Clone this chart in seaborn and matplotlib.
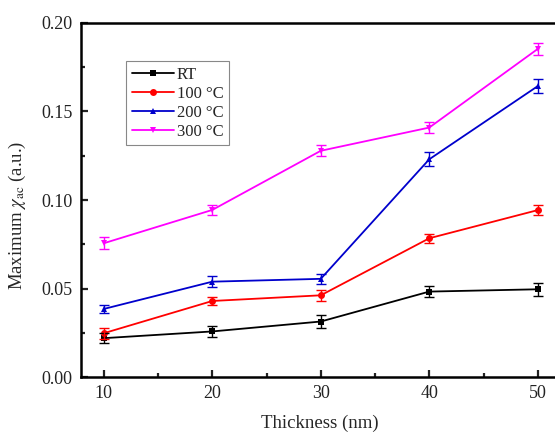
import matplotlib
matplotlib.use("Agg")
import matplotlib.pyplot as plt
import seaborn as sns
import pandas as pd
from matplotlib.ticker import MultipleLocator

# Film thickness (nm)
thickness = [10, 20, 30, 40, 50]

# Maximum ac susceptibility for each annealing condition
chi_rt = [0.0220, 0.0258, 0.0314, 0.0483, 0.0496]
chi_100 = [0.0248, 0.0430, 0.0462, 0.0784, 0.0943]
chi_200 = [0.0385, 0.0539, 0.0555, 0.1230, 0.1643]
chi_300 = [0.0756, 0.0944, 0.1278, 0.1409, 0.1853]

# Measurement uncertainty
err_rt = [0.0030, 0.0030, 0.0035, 0.0030, 0.0036]
err_100 = [0.0030, 0.0025, 0.0030, 0.0025, 0.0030]
err_200 = [0.0025, 0.0030, 0.0030, 0.0040, 0.0040]
err_300 = [0.0035, 0.0030, 0.0030, 0.0030, 0.0035]

labels = ["RT", "100 \u00b0C", "200 \u00b0C", "300 \u00b0C"]
colors = ["#000000", "#ff0000", "#0000cc", "#ff00ff"]
markers = ["s", "o", "^", "v"]

values = [chi_rt, chi_100, chi_200, chi_300]
errors = [err_rt, err_100, err_200, err_300]

df = pd.DataFrame({
    "thickness": thickness * 4,
    "chi": sum(values, []),
    "err": sum(errors, []),
    "series": [lab for lab in labels for _ in thickness],
})

sns.set_theme(style="ticks")
plt.rcParams["font.family"] = ["Liberation Serif", "DejaVu Serif"]
plt.rcParams["mathtext.fontset"] = "stix"

fig = plt.figure(figsize=(5.55, 4.32), dpi=100)
ax = fig.add_axes([0.146, 0.127, 0.862, 0.820])

sns.lineplot(
    data=df, x="thickness", y="chi", hue="series", style="series",
    hue_order=labels, style_order=labels,
    palette=dict(zip(labels, colors)),
    markers=dict(zip(labels, markers)), dashes=False,
    markersize=5, markeredgewidth=0, linewidth=1.3, ax=ax,
)

for lab, col in zip(labels, colors):
    sub = df[df["series"] == lab]
    ax.errorbar(sub["thickness"], sub["chi"], yerr=sub["err"], fmt="none",
                ecolor=col, elinewidth=1.0, capsize=3.5, capthick=1.0)

ax.set_xlim(7.9, 52)
ax.set_ylim(0, 0.20)
ax.xaxis.set_major_locator(MultipleLocator(10))
ax.xaxis.set_minor_locator(MultipleLocator(5))
ax.yaxis.set_major_locator(MultipleLocator(0.05))
ax.yaxis.set_minor_locator(MultipleLocator(0.025))
ax.yaxis.set_major_formatter(matplotlib.ticker.FormatStrFormatter("%.2f"))

ax.tick_params(which="both", direction="in", top=False, right=False,
               labelsize=13, colors="#222222", width=1.6)
ax.tick_params(which="major", length=5)
ax.tick_params(which="minor", length=3)
ax.tick_params(axis="x", pad=6)
ax.tick_params(axis="y", pad=6)
for side in ["left", "bottom", "top", "right"]:
    ax.spines[side].set_linewidth(1.8)
    ax.spines[side].set_color("black")

ax.set_xlabel("Thickness (nm)", fontsize=13.5, labelpad=9)
ax.set_ylabel(r"Maximum $\chi_{\rm ac}$ (a.u.)", fontsize=13.5)
ax.yaxis.set_label_coords(-0.11, 0.458)

leg = ax.legend(loc="upper left", bbox_to_anchor=(0.094, 0.893),
                fontsize=12, frameon=True, fancybox=False,
                edgecolor="#888888", framealpha=1, handlelength=2.5,
                handletextpad=0.2, labelspacing=0.18, borderpad=0.35,
                borderaxespad=0)
leg.get_frame().set_linewidth(0.8)

fig.savefig("out.png", dpi=100)
